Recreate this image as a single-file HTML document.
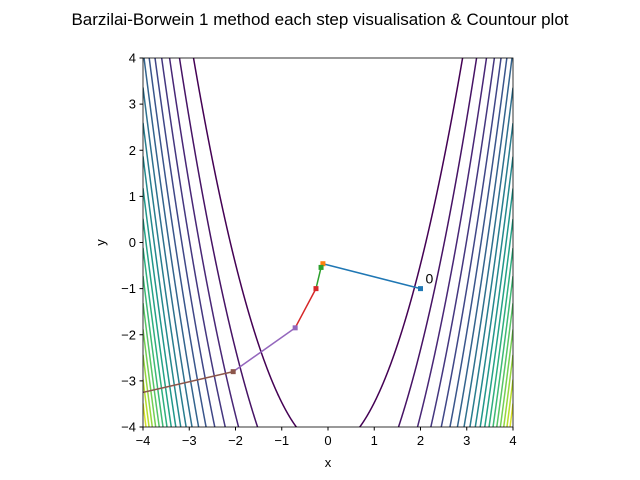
<!DOCTYPE html>
<html><head><meta charset="utf-8"><style>html,body{margin:0;padding:0;background:#fff;overflow:hidden;width:640px;height:480px}svg{display:block}text{font-family:"Liberation Sans","DejaVu Sans",sans-serif}</style></head>
<body>
<svg id="c" width="640" height="480" xmlns="http://www.w3.org/2000/svg">
<rect width="640" height="480" fill="#fff"/>
<text x="320" y="25" text-anchor="middle" font-size="17">Barzilai-Borwein 1 method each step visualisation &amp; Countour plot</text>
<defs><clipPath id="cp"><rect x="143" y="58" width="370" height="369"/></clipPath></defs>
<g id="plot" clip-path="url(#cp)"></g>
<g id="axes"></g>
</svg>
<script>
const levels=[2000,4000,6000,8000,10000,12000,14000,16000,18000,20000,22000,24000,26000,28000,30000,32000,34000,36000,38000,40000];
const pathX=[2.0,-0.11,-0.15,-0.26,-0.71,-2.05,-4.0];
const pathY=[-1.0,-0.46,-0.54,-1.0,-1.85,-2.8,-3.25];
const ticks=[-4,-3,-2,-1,0,1,2,3,4];
const X0=143,X1=513,Y0=427,Y1=58;
const sx=v=>X0+(v+4)/8*(X1-X0), sy=v=>Y0-(v+4)/8*(Y0-Y1);
const NS="http://www.w3.org/2000/svg";
const plot=document.getElementById('plot'), axes=document.getElementById('axes');
const vir=[[68,1,84],[72,40,120],[62,74,137],[49,104,142],[38,130,142],[31,158,137],[53,183,121],[109,205,89],[180,222,44],[253,231,37]];
function cmap(t){t=Math.max(0,Math.min(1,t))*9;const i=Math.min(8,Math.floor(t)),f=t-i,a=vir[i],b=vir[i+1];return `rgb(${a.map((v,k)=>Math.round(v+(b[k]-v)*f)).join(',')})`;}
levels.forEach((L,i)=>{
  let d='';let pen=false;
  for(let k=0;k<=1600;k++){const x=-4+8*k/1600;const r=(L-(1-x)*(1-x))/100;if(r<0){pen=false;continue;}
    const y=x*x-Math.sqrt(r);
    if(y<-4.3||y>4.3){pen=false;continue;}
    d+=(pen?'L':'M')+sx(x).toFixed(2)+' '+sy(y).toFixed(2);pen=true;}
  if(!d)return;
  const p=document.createElementNS(NS,'path');p.setAttribute('d',d);p.setAttribute('fill','none');
  p.setAttribute('stroke',cmap((L-2000)/(levels[levels.length-1]-2000)));p.setAttribute('stroke-width','1.5');
  
  
  plot.appendChild(p);
});
const cols=['#1f77b4','#ff7f0e','#2ca02c','#d62728','#9467bd','#8c564b','#e377c2'];
for(let i=0;i<pathX.length-1;i++){
  const l=document.createElementNS(NS,'line');
  l.setAttribute('x1',sx(pathX[i]));l.setAttribute('y1',sy(pathY[i]));l.setAttribute('x2',sx(pathX[i+1]));l.setAttribute('y2',sy(pathY[i+1]));
  l.setAttribute('stroke',cols[i]);l.setAttribute('stroke-width','1.5');
  
  
  plot.appendChild(l);
}
for(let i=0;i<pathX.length-1;i++){
  const m=document.createElementNS(NS,'rect');
  m.setAttribute('x',sx(pathX[i])-2.5);m.setAttribute('y',sy(pathY[i])-2.5);m.setAttribute('width',5);m.setAttribute('height',5);m.setAttribute('fill',cols[i]);
  
  
  plot.appendChild(m);
}
const lab=document.createElementNS(NS,'text');lab.setAttribute('x',sx(pathX[0])+5);lab.setAttribute('y',sy(pathY[0])-5);lab.setAttribute('font-size','14');lab.textContent='0';


axes.appendChild(lab);
const fr=document.createElementNS(NS,'rect');fr.setAttribute('x',X0);fr.setAttribute('y',Y1);fr.setAttribute('width',X1-X0);fr.setAttribute('height',Y0-Y1);fr.setAttribute('fill','none');fr.setAttribute('stroke','#000');fr.setAttribute('stroke-width','0.8');


axes.appendChild(fr);
ticks.forEach(t=>{
  const lx=document.createElementNS(NS,'line');lx.setAttribute('x1',sx(t));lx.setAttribute('x2',sx(t));lx.setAttribute('y1',Y0);lx.setAttribute('y2',Y0+3.5);lx.setAttribute('stroke','#000');
  
  
  axes.appendChild(lx);
  const tx=document.createElementNS(NS,'text');tx.setAttribute('x',sx(t));tx.setAttribute('y',Y0+18);tx.setAttribute('text-anchor','middle');tx.setAttribute('font-size','13');tx.textContent=(t<0?'\u2212':'')+Math.abs(t);
  
  
  axes.appendChild(tx);
  const ly=document.createElementNS(NS,'line');ly.setAttribute('x1',X0-3.5);ly.setAttribute('x2',X0);ly.setAttribute('y1',sy(t));ly.setAttribute('y2',sy(t));ly.setAttribute('stroke','#000');
  
  
  axes.appendChild(ly);
  const ty=document.createElementNS(NS,'text');ty.setAttribute('x',X0-7);ty.setAttribute('y',sy(t)+4.5);ty.setAttribute('text-anchor','end');ty.setAttribute('font-size','13');ty.textContent=(t<0?'\u2212':'')+Math.abs(t);
  
  
  axes.appendChild(ty);
});
const xl=document.createElementNS(NS,'text');xl.setAttribute('x',(X0+X1)/2);xl.setAttribute('y',467);xl.setAttribute('text-anchor','middle');xl.setAttribute('font-size','13');xl.textContent='x';


axes.appendChild(xl);
const yl=document.createElementNS(NS,'text');yl.setAttribute('transform',`translate(105,${(Y0+Y1)/2}) rotate(-90)`);yl.setAttribute('text-anchor','middle');yl.setAttribute('font-size','13');yl.textContent='y';


axes.appendChild(yl);
</script>
</body></html>
